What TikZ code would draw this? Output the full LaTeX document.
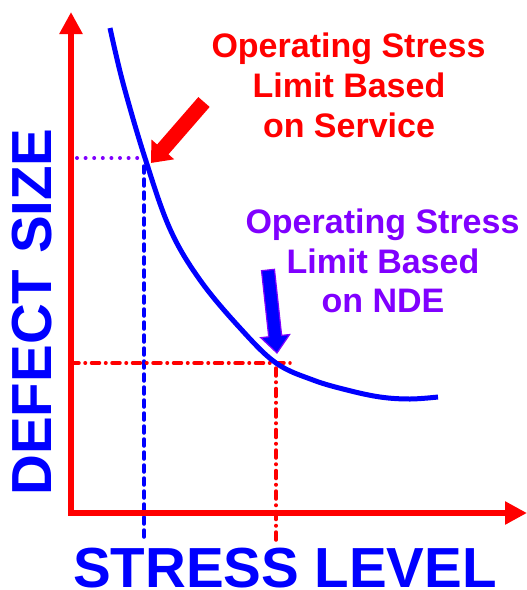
\documentclass[tikz,border=0pt]{standalone}
\usepackage{fontspec}
\setmainfont{Liberation Sans}
\usetikzlibrary{arrows.meta,calc}
\definecolor{ared}{RGB}{255,0,0}
\definecolor{ablue}{RGB}{0,0,255}
\definecolor{apurple}{RGB}{128,0,255}
\begin{document}
\begin{tikzpicture}[x=1pt,y=-1pt,
  axisline/.style={ared,line width=5.5pt,line join=miter,
    {Triangle[width=22pt,length=22pt]}-{Triangle[width=22pt,length=22pt]}},
  curveline/.style={ablue,line width=5pt},
  bluedash/.style={ablue,line width=3.5pt,line cap=round,dash pattern=on 7pt off 6pt},
  purpdot/.style={apurple,line width=4pt,line cap=round,dash pattern=on 0pt off 8.6pt},
  reddashdot/.style={ared,line width=3.5pt,line cap=round,dash pattern=on 8pt off 6pt on 0.5pt off 6pt},
  note/.style={font=\bfseries\fontsize{34}{40}\selectfont,inner sep=0pt,anchor=base},
  biglabel/.style={ablue,font=\bfseries\fontsize{56.5}{60}\selectfont,inner sep=0pt,anchor=base,
    text height=41pt,text depth=0pt}
]
\useasboundingbox (0,0) rectangle (527,590);

% reference points
\coordinate (ytop) at (71,12);
\coordinate (orig) at (71,513);
\coordinate (xend) at (527,513);
\coordinate (svc) at (145,158);
\coordinate (nde) at (276,363);

% guide lines
\draw[purpdot] (77,158) -- (svc);
\draw[bluedash] (144,166) -- (144,540);
\draw[reddashdot] (71,363) -- (290,363);
\draw[reddashdot] (276,368) -- (276,540);

% axes
\draw[axisline] (ytop) -- (orig) -- (xend);

% curve
\draw[curveline] plot[smooth,tension=0.6] coordinates {
  (110,28) (123,83) (145,158) (170,229) (200,280) (240,328) (276,363)
  (313,380) (347,390) (380,397) (410,399) (438,397)};

% red pointer arrow
\coordinate (rtail) at (204,102);
\coordinate (rtip) at (151,163);
\draw[ared,line width=15pt,-{Triangle[width=29pt,length=18pt]}] (rtail) -- (rtip);

% blue pointer arrow with purple outline
\coordinate (btail) at (268,270);
\coordinate (btip) at (277,353);
\coordinate (bbase) at ($(btip)!17pt!(btail)$);
\filldraw[fill=ablue,draw=apurple,line width=1.2pt,line join=miter]
  ($(btail)!6.5pt!90:(btip)$) -- ($(bbase)!6.5pt!90:(btip)$) --
  ($(bbase)!14.5pt!90:(btip)$) -- (btip) --
  ($(bbase)!14.5pt!-90:(btip)$) -- ($(bbase)!6.5pt!-90:(btip)$) --
  ($(btail)!6.5pt!-90:(btip)$) -- cycle;

% notes
\node[note,ared] (r1) at (348.5,57) {Operating Stress};
\node[note,ared] (r2) at (349,97) {Limit Based};
\node[note,ared] (r3) at (349,137) {on Service};
\node[note,apurple] (p1) at (382.5,233) {Operating Stress};
\node[note,apurple] (p2) at (383,273) {Limit Based};
\node[note,apurple] (p3) at (383,312) {on NDE};

% axis labels
\node[biglabel,rotate=90] (ylab) at (52,312) {DEFECT SIZE};
\node[biglabel] (xlab) at (285,587) {STRESS LEVEL};
\end{tikzpicture}
\end{document}
